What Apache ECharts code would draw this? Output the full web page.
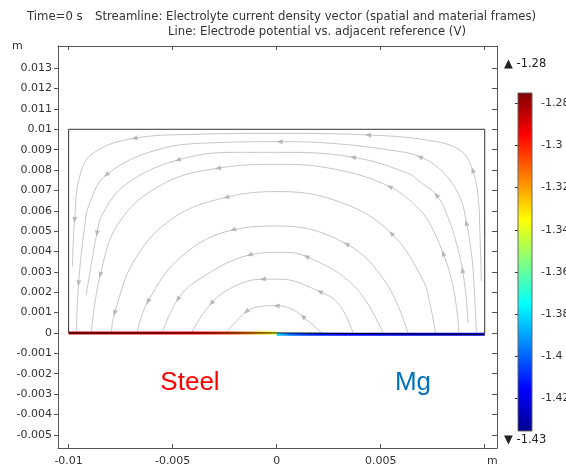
<!DOCTYPE html>
<html>
<head>
    <meta charset="utf-8">
    <style>
        * {
            margin: 0;
            padding: 0;
        }

        html, body {
            background: #fff;
        }

        #container {
            width: 566px;
            height: 468px;
        }
    </style>
</head>
<body>
<div id="container"></div>
<script type="text/javascript" src="https://cdn.jsdelivr.net/npm/echarts@6/dist/echarts.min.js"></script>
<script type="text/javascript">
    // axis ticks (m)
    let xTicks = [-0.01, -0.005, 0, 0.005, 0.01];
    let xLabels = [-0.01, -0.005, 0, 0.005]; // 0.01 label is taken by the unit
    let yTicks = [-0.005, -0.004, -0.003, -0.002, -0.001, 0, 0.001, 0.002, 0.003, 0.004,
        0.005, 0.006, 0.007, 0.008, 0.009, 0.01, 0.011, 0.012, 0.013];
    let barTicks = [-1.42, -1.4, -1.38, -1.36, -1.34, -1.32, -1.3, -1.28];
    let colorMin = -1.4355;
    let colorMax = -1.2751;

    // electrolyte domain (m)
    let geomX = [-0.01, 0.01];
    let geomY = [0, 0.01];

    // electrode potential along the bottom boundary, x in mm, potential in V
    let steelX = [-10, -8, -6, -5, -4, -3, -2.4, -2, -1.5, -1, -0.5, -0.15, 0];
    let steelV = [-1.283, -1.287, -1.290, -1.293, -1.296, -1.300, -1.305, -1.309, -1.315, -1.322, -1.330, -1.337, -1.343];
    let mgX = [0, 0.3, 0.7, 1.2, 2, 3, 5, 7, 10];
    let mgV = [-1.376, -1.386, -1.396, -1.404, -1.410, -1.414, -1.418, -1.420, -1.422];
    let mgOffset = -0.07; // mm, Mg line sits a hair lower

    // streamlines, points in mm, listed left to right (current flows Mg -> steel)
    let stream1 = [[-9.82, 3.25], [-9.71, 5.55], [-9.47, 7.67], [-8.83, 8.82], [-6.83, 9.56], [-4.02, 9.75], [0.14, 9.80],
        [4.39, 9.72], [7.20, 9.47], [8.80, 8.98], [9.42, 8.00], [9.71, 6.38], [9.76, 5.20], [9.84, 2.52]];
    let stream2 = [[-9.63, 0], [-9.52, 2.44], [-9.23, 5.22], [-8.99, 6.37], [-8.19, 7.76], [-5.78, 8.98], [-2.98, 9.34],
        [0.14, 9.39], [2.63, 9.31], [5.43, 8.98], [6.88, 8.65], [7.97, 7.92], [8.80, 6.69], [9.12, 5.41], [9.36, 3.91],
        [9.47, 2.64], [9.60, 0]];
    let stream3 = [[-9.15, 1.87], [-8.64, 4.89], [-8.35, 5.88], [-7.23, 7.31], [-4.75, 8.49], [-1.94, 8.87], [0.14, 8.87],
        [3.67, 8.63], [6.31, 7.84], [6.88, 7.43], [7.68, 6.77], [8.19, 5.79], [8.64, 4.40], [8.93, 3.09], [9.12, 1.62],
        [9.20, 0.48]];
    let stream4 = [[-8.91, 0], [-8.48, 2.85], [-7.55, 5.46], [-5.47, 7.31], [-2.82, 8.09], [0.14, 8.28], [2.79, 8.04],
        [5.43, 7.18], [6.88, 6.04], [7.44, 5.22], [8.00, 3.91], [8.40, 2.64], [8.64, 1.29], [8.76, 0]];
    let stream5 = [[-7.95, 0], [-7.79, 0.97], [-6.83, 3.58], [-4.99, 5.63], [-2.42, 6.66], [0.14, 6.94], [3.19, 6.37],
        [5.51, 4.89], [7.03, 2.60], [7.36, 1.46], [7.64, 0]];
    let stream6 = [[-6.72, 0], [-6.19, 1.54], [-4.58, 3.75], [-2.10, 5.06], [0.14, 5.25], [3.35, 4.37], [5.27, 2.44], [6.31, 0]];
    let stream7 = [[-5.51, 0], [-4.75, 1.65], [-3.78, 2.60], [-1.30, 3.83], [0.14, 3.96], [1.43, 3.75], [3.75, 2.27], [5.11, 0]];
    let stream8 = [[-4.10, 0], [-3.14, 1.46], [-2.00, 2.30], [-0.66, 2.64], [0.14, 2.64], [2.07, 2.03], [3.00, 1.40], [3.67, 0]];
    let stream9 = [[-2.42, 0], [-1.46, 1.05], [-0.75, 1.30], [0.00, 1.34], [0.70, 1.18], [1.26, 0.80], [2.15, 0]];

    let streams = [stream1, stream2, stream3, stream4, stream5, stream6, stream7, stream8, stream9];

    // jet colour table, evenly spaced from colorMin to colorMax
    let jet = ['#00008f', '#0000ff', '#0080ff', '#00ffff', '#80ff80', '#ffff00', '#ff8000', '#ff0000', '#800000'];

    let mm = v => v / 1000;
    let toM = pts => pts.map(p => [mm(p[0]), mm(p[1])]);

    function potColor(v) {
        let t = (v - colorMin) / (colorMax - colorMin);
        return echarts.color.lerp(Math.max(0, Math.min(1, t)), jet);
    }

    function lineGradient(xs, vs) {
        let x0 = xs[0], x1 = xs[xs.length - 1];
        let stops = xs.map((x, i) => ({offset: (x - x0) / (x1 - x0), color: potColor(vs[i])}));
        return new echarts.graphic.LinearGradient(0, 0, 1, 0, stops);
    }

    // arrow heads along each streamline, pointing in the flow direction
    let arrows = [];
    streams.forEach(s => {
        let step = s.length > 10 ? 3 : 2;
        for (let i = 1; i < s.length - 1; i += step) {
            let dx = s[i - 1][0] - s[i + 1][0];
            let dy = s[i - 1][1] - s[i + 1][1];
            let rot = Math.atan2(-dx, dy) * 180 / Math.PI;
            arrows.push({value: [mm(s[i][0]), mm(s[i][1])], symbolRotate: rot});
        }
    });

    let dom = document.getElementById("container");
    let myChart = echarts.init(dom, null, {renderer: 'canvas'});

    let axisFont = {color: '#333', fontSize: 11, fontFamily: 'DejaVu Sans'};
    let titleFont = '11.7px "DejaVu Sans"';
    let frameLine = {show: true, onZero: false, lineStyle: {color: '#555', width: 1}};
    let tickStyle = {color: '#555', width: 1};

    let series = [];
    streams.forEach(s => {
        series.push({
            type: 'line',
            data: toM(s),
            smooth: 0.4,
            showSymbol: false,
            silent: true,
            lineStyle: {color: '#c6c6c6', width: 1},
            z: 2
        });
    });
    series.push({
        type: 'scatter',
        data: arrows,
        symbol: 'triangle',
        symbolSize: [5, 6],
        itemStyle: {color: '#acacac'},
        silent: true,
        z: 3
    });
    // domain outline
    series.push({
        type: 'line',
        data: [[geomX[1], geomY[0]], [geomX[1], geomY[1]], [geomX[0], geomY[1]], [geomX[0], geomY[0]]],
        showSymbol: false,
        silent: true,
        lineStyle: {color: '#333', width: 1},
        z: 4
    });
    // electrode potential lines
    series.push({
        type: 'line',
        data: steelX.map(x => [mm(x), 0]),
        showSymbol: false,
        silent: true,
        lineStyle: {color: lineGradient(steelX, steelV), width: 3},
        z: 5
    });
    series.push({
        type: 'line',
        data: mgX.map(x => [mm(x), mm(mgOffset)]),
        showSymbol: false,
        silent: true,
        lineStyle: {color: lineGradient(mgX, mgV), width: 3},
        z: 5
    });
    series.push({
        type: 'line',
        data: [[mm(steelX[0]), 0], [0, 0], [0, mm(mgOffset)], [mm(mgX[mgX.length - 1]), mm(mgOffset)]],
        showSymbol: false,
        silent: true,
        lineStyle: {color: '#000', width: 1, opacity: 0.85},
        z: 6
    });
    // colour legend bar
    series.push({
        type: 'custom',
        xAxisIndex: 2,
        yAxisIndex: 2,
        data: [[0, colorMin, colorMax]],
        silent: true,
        renderItem: function (params, api) {
            let p1 = api.coord([0, api.value(2)]);
            let p2 = api.coord([1, api.value(1)]);
            let stops = jet.map((c, i) => ({offset: i / (jet.length - 1), color: c}));
            return {
                type: 'rect',
                shape: {x: p1[0], y: p1[1], width: p2[0] - p1[0], height: p2[1] - p1[1]},
                style: {
                    fill: new echarts.graphic.LinearGradient(0, 1, 0, 0, stops),
                    stroke: '#666',
                    lineWidth: 1
                }
            };
        }
    });

    let option = {
        animation: false,
        backgroundColor: '#fff',
        grid: [
            {left: 58, right: 69, top: 46, bottom: 20, outerBoundsMode: 'none'},
            {left: 518, width: 14, top: 93, height: 338, outerBoundsMode: 'none'}
        ],
        xAxis: [
            {
                type: 'value', gridIndex: 0, position: 'bottom',
                min: -0.01051, max: 0.01059,
                axisLine: frameLine,
                axisTick: {inside: true, length: 4, customValues: xTicks, lineStyle: tickStyle},
                axisLabel: Object.assign({customValues: xLabels, margin: 8, formatter: v => String(v)}, axisFont),
                splitLine: {show: false}
            },
            {
                type: 'value', gridIndex: 0, position: 'top',
                min: -0.01051, max: 0.01059,
                axisLine: frameLine,
                axisTick: {inside: true, length: 4, customValues: xTicks, lineStyle: tickStyle},
                axisLabel: {show: false},
                splitLine: {show: false}
            },
            {
                type: 'value', gridIndex: 1, min: 0, max: 1, show: false
            }
        ],
        yAxis: [
            {
                type: 'value', gridIndex: 0, position: 'left',
                min: -0.00565, max: 0.01409,
                axisLine: frameLine,
                axisTick: {inside: false, length: 4, customValues: yTicks, lineStyle: tickStyle},
                axisLabel: Object.assign({customValues: yTicks, margin: 6, formatter: v => String(v)}, axisFont),
                splitLine: {show: false}
            },
            {
                type: 'value', gridIndex: 0, position: 'right',
                min: -0.00565, max: 0.01409,
                axisLine: frameLine,
                axisTick: {inside: true, length: 5, customValues: yTicks, lineStyle: tickStyle},
                axisLabel: {show: false},
                splitLine: {show: false}
            },
            {
                type: 'value', gridIndex: 1, position: 'right',
                min: colorMin, max: colorMax,
                axisLine: {show: false},
                axisTick: {inside: true, length: 3, customValues: barTicks, lineStyle: {color: '#333'}},
                axisLabel: Object.assign({customValues: barTicks, margin: 9, formatter: v => String(v)}, axisFont),
                splitLine: {show: false}
            },
            {
                type: 'value', gridIndex: 1, position: 'left',
                min: colorMin, max: colorMax,
                axisLine: {show: false},
                axisTick: {inside: true, length: 3, customValues: barTicks, lineStyle: {color: '#333'}},
                axisLabel: {show: false},
                splitLine: {show: false}
            }
        ],
        graphic: [
            {type: 'text', x: 27, y: 17, style: {text: 'Time=0 s', font: titleFont, fill: '#333', verticalAlign: 'middle'}},
            {type: 'text', x: 95, y: 17, style: {text: 'Streamline: Electrolyte current density vector (spatial and material frames)', font: titleFont, fill: '#333', verticalAlign: 'middle'}},
            {type: 'text', x: 168, y: 32, style: {text: 'Line: Electrode potential vs. adjacent reference (V)', font: titleFont, fill: '#333', verticalAlign: 'middle'}},
            {type: 'text', x: 12, y: 46, style: {text: 'm', font: '11px "DejaVu Sans"', fill: '#333', verticalAlign: 'middle'}},
            {type: 'text', x: 487, y: 461, style: {text: 'm', font: '11px "DejaVu Sans"', fill: '#333', verticalAlign: 'middle'}},
            {type: 'text', x: 504, y: 64, style: {text: '\u25B2 -1.28', font: '11.5px "DejaVu Sans"', fill: '#222', verticalAlign: 'middle'}},
            {type: 'text', x: 504, y: 440, style: {text: '\u25BC -1.43', font: '11.5px "DejaVu Sans"', fill: '#222', verticalAlign: 'middle'}},
            {type: 'text', x: 190, y: 383, style: {text: 'Steel', font: '26px "Liberation Sans"', fill: '#ff0000', align: 'center', verticalAlign: 'middle'}},
            {type: 'text', x: 413, y: 383, style: {text: 'Mg', font: '26px "Liberation Sans"', fill: '#0070c0', align: 'center', verticalAlign: 'middle'}}
        ],
        series: series
    };

    myChart.setOption(option, true);
</script>
</body>
</html>
